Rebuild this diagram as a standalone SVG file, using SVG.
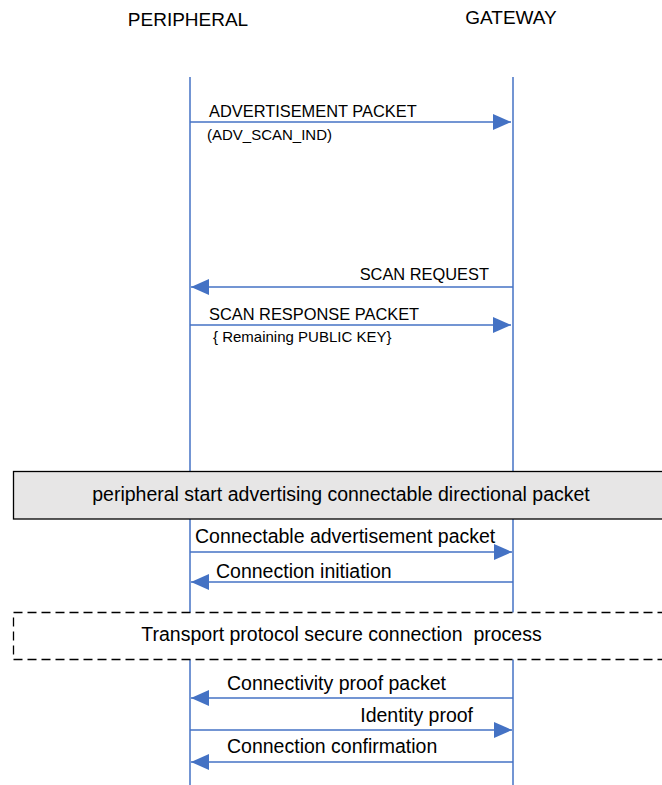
<svg xmlns="http://www.w3.org/2000/svg" width="662" height="785" viewBox="0 0 662 785">
  <style>
    text { font-family: "Liberation Sans", Arial, sans-serif; fill: #000; }
    .hdr { font-size: 19px; text-anchor: middle; }
    .caps { font-size: 16.4px; }
    .small { font-size: 15px; }
    .lbl { font-size: 19.5px; }
    .life { stroke: #4472C4; stroke-width: 1.5; fill: none; }
    .msg { stroke: #4472C4; stroke-width: 1.5; fill: none; marker-end: url(#ah); }
    .band { fill: #e7e6e6; stroke: #000; stroke-width: 1.3; }
    .dash { fill: #fff; stroke: #000; stroke-width: 1.3; stroke-dasharray: 9 5; }
    .mid { text-anchor: middle; }
    .end { text-anchor: end; }
  </style>
  <defs>
    <marker id="ah" viewBox="0 0 18 16" refX="18" refY="8" markerWidth="18" markerHeight="16" markerUnits="userSpaceOnUse" orient="auto">
      <path d="M0,0 L18,8 L0,16 z" fill="#4472C4"/>
    </marker>
  </defs>
  <rect x="0" y="0" width="662" height="785" fill="#fff"/>

  <g id="peripheral">
    <text class="hdr" x="188" y="26">PERIPHERAL</text>
    <line class="life" x1="190" y1="77" x2="190" y2="785"/>
  </g>
  <g id="gateway">
    <text class="hdr" x="511" y="24">GATEWAY</text>
    <line class="life" x1="513" y1="77" x2="513" y2="785"/>
  </g>

  <g id="advertising-phase">
    <rect class="band" x="13.5" y="471.5" width="660" height="47.5"/>
    <text class="lbl mid" x="341" y="501">peripheral start advertising connectable directional packet</text>
  </g>
  <g id="secure-connection">
    <rect class="dash" x="13.5" y="612.5" width="660" height="47"/>
    <text class="lbl mid" x="341.5" y="641" xml:space="preserve">Transport protocol secure connection  process</text>
  </g>

  <g id="connectors">
    <line class="msg" x1="190" y1="122" x2="511" y2="122"/>
    <text class="caps" x="209" y="117">ADVERTISEMENT PACKET</text>
    <text class="small" x="207" y="140">(ADV_SCAN_IND)</text>

    <line class="msg" x1="513" y1="287" x2="191" y2="287"/>
    <text class="caps end" x="489" y="280">SCAN REQUEST</text>

    <line class="msg" x1="190" y1="325" x2="511" y2="325"/>
    <text class="caps" x="209" y="320">SCAN RESPONSE PACKET</text>
    <text class="small" x="213" y="342">{ Remaining PUBLIC KEY}</text>

    <line class="msg" x1="190" y1="552" x2="512" y2="552"/>
    <text class="lbl" x="195" y="543">Connectable advertisement packet</text>

    <line class="msg" x1="513" y1="582" x2="191" y2="582"/>
    <text class="lbl" x="216" y="578">Connection initiation</text>

    <line class="msg" x1="513" y1="698" x2="191" y2="698"/>
    <text class="lbl" x="227" y="690">Connectivity proof packet</text>

    <line class="msg" x1="190" y1="730" x2="512" y2="730"/>
    <text class="lbl end" x="473" y="722">Identity proof</text>

    <line class="msg" x1="513" y1="762" x2="191" y2="762"/>
    <text class="lbl" x="227" y="753">Connection confirmation</text>
  </g>
</svg>
